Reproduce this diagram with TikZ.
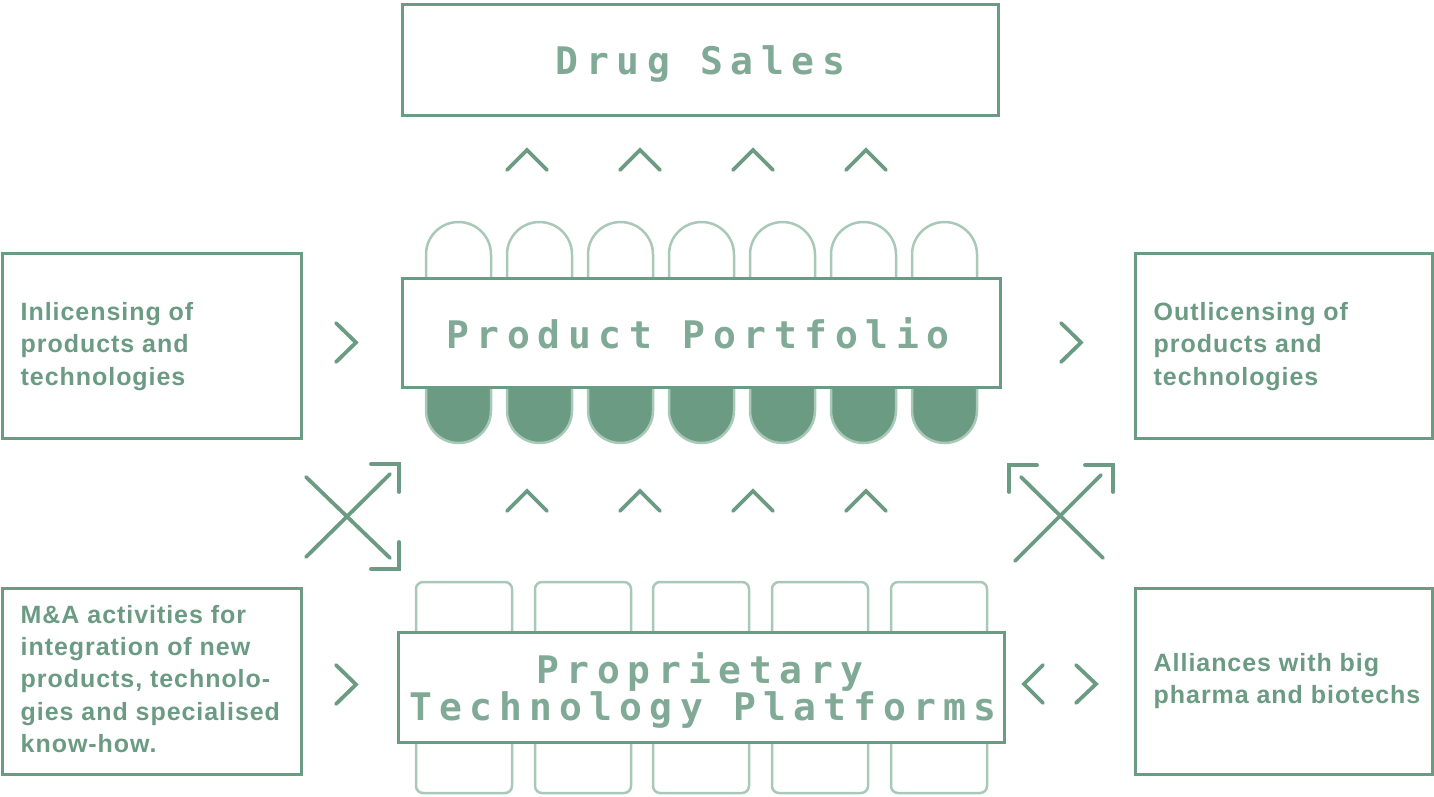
\documentclass[tikz,border=0pt]{standalone}
\usepackage{fontspec}
\setmainfont{Liberation Sans}
\newfontfamily\boxfont{Liberation Sans}[LetterSpace=3.8]
\newfontfamily\matrixfont{DejaVu Sans Mono}[LetterSpace=20]
\newfontfamily\matrixfontnarrow{DejaVu Sans Mono}[LetterSpace=19]
\definecolor{sage}{HTML}{6B9B83}
\definecolor{sagelight}{HTML}{A9C9B8}
\begin{document}
\begin{tikzpicture}[x=1pt,y=-1pt,
  panel/.style={draw=sage, line width=3pt, fill=white, inner sep=0pt},
  blurb/.style={font=\boxfont\bfseries\fontsize{25}{32.3}\selectfont, text=sage, align=left, inner sep=0pt, anchor=west},
  dottitle/.style={font=\matrixfont\bfseries\fontsize{38}{36}\selectfont, text=sage!85!white, inner sep=0pt, anchor=base},
  chev/.style={draw=sage, line width=3.8pt, line cap=round, line join=miter},
  capsule/.style={draw=sagelight, line width=2.5pt, rounded corners=32.5pt},
  slot/.style={draw=sagelight, line width=2.5pt, rounded corners=7pt, fill=white},
]
\useasboundingbox (0,0) rectangle (1434,796);

% capsules above and below the portfolio bar
\foreach \cx in {458.5,539.5,620.5,701.5,782.5,863.5,944.5} {
  \draw[capsule, fill=white] (\cx-32.5,222) rectangle (\cx+32.5,330);
  \draw[capsule, fill=sage] (\cx-32.5,340) rectangle (\cx+32.5,443);
}
% platform slots behind the lower bar
\foreach \cx in {464,583,701,820,939} {
  \draw[slot] (\cx-48,582) rectangle (\cx+48,793);
}

% main bars
\node[panel, minimum width=596pt, minimum height=111pt] (sales) at (700,59.5) {};
\node[dottitle] (salestext) at (700.5,74) {Drug Sales};

\node[panel, minimum width=598pt, minimum height=109pt] (portfolio) at (701,332.5) {};
\node[dottitle] (portfoliotext) at (698,348) {Product Portfolio};

\node[panel, minimum width=606pt, minimum height=110pt] (platforms) at (701,687) {};
\node[dottitle] (platformstexta) at (700,683) {Proprietary};
\node[dottitle, font=\matrixfontnarrow\bfseries\fontsize{38}{36}\selectfont] (platformstextb) at (703,720) {Technology Platforms};

% side boxes
\node[panel, minimum width=299pt, minimum height=185pt] (inlic) at (151.5,345.5) {};
\node[blurb] (inlictext) at ([xshift=20pt,yshift=-1pt]inlic.west) {Inlicensing of\\products and\\technologies};

\node[panel, minimum width=297pt, minimum height=185pt] (outlic) at (1283.5,345.5) {};
\node[blurb] (outlictext) at ([xshift=20pt,yshift=-1pt]outlic.west) {Outlicensing of\\products and\\technologies};

\node[panel, minimum width=299pt, minimum height=186pt] (manda) at (151.5,681) {};
\node[blurb] (mandatext) at ([xshift=20pt,yshift=2pt]manda.west) {M\&A activities for\\integration of new\\products, technolo-\\gies and specialised\\know-how.};

\node[panel, minimum width=297pt, minimum height=186pt] (alliance) at (1283.5,681) {};
\node[blurb] (alliancetext) at ([xshift=20pt]alliance.west) {Alliances with big\\pharma and biotechs};

% upward chevrons
\foreach \cx in {527,640,753,866} {
  \draw[chev] (\cx-20,170) -- (\cx,150) -- (\cx+20,170);
  \draw[chev] (\cx-20,511) -- (\cx,491) -- (\cx+20,511);
}

% sideways chevrons
\draw[chev] (336,323) -- (356,342.5) -- (336,362);
\draw[chev] (1061,323) -- (1081,342.5) -- (1061,362);
\draw[chev] (336,665) -- (356,684.5) -- (336,704);
\draw[chev] (1043,665) -- (1024,684) -- (1043,703);
\draw[chev] (1076,665) -- (1096,684) -- (1076,703);

% crossing arrows, left
\draw[chev] (306,477) -- (390,558);
\draw[chev] (306,557) -- (390,474);
\draw[chev] (371,464) -- (399,464) -- (399,492);
\draw[chev] (399,542) -- (399,569) -- (371,569);

% crossing arrows, right
\draw[chev] (1021,477) -- (1103,558);
\draw[chev] (1015,561) -- (1101,475);
\draw[chev] (1009,492) -- (1009,465) -- (1037,465);
\draw[chev] (1085,465) -- (1113,465) -- (1113,492);
\end{tikzpicture}
\end{document}
